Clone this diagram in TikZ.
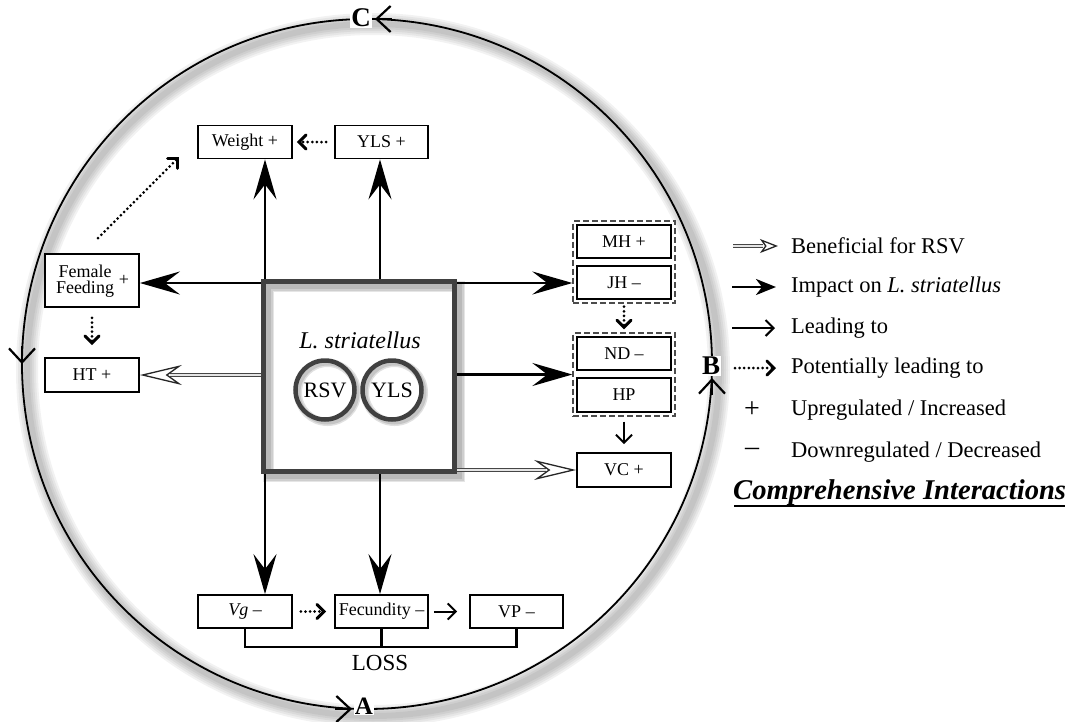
\documentclass[tikz,border=0pt]{standalone}
\usepackage{fontspec}
\setmainfont{Liberation Serif}
\usetikzlibrary{arrows.meta,calc,fit}
\newcommand{\fsz}[1]{\fontsize{#1}{#1}\selectfont}
\definecolor{cbox}{HTML}{404040}
% hollow "beneficial" arrow: from #1 to #2, head length #3, width #4, inset #5
\newcommand{\benarrow}[5]{%
  \draw[line width=3.6pt, gray!55!black] (#1) -- ($(#2)!#3-#5+2pt!(#1)$);
  \draw[line width=1.3pt, gray!20] (#1) -- ($(#2)!#3-#5+2pt!(#1)$);
  \draw[line width=1.3pt, black!85, -{Stealth[open, fill=white, length=#3, width=#4, inset=#5]}] ($(#2)!#3-#5+0.5pt!(#1)$) -- (#2);
}
\begin{document}
\begin{tikzpicture}[x=1pt,y=-1pt,
  box/.style={draw, fill=white, line width=1.8pt, minimum width=94pt, minimum height=33pt, inner sep=0pt, font=\fsz{18}},
  grp/.style={draw=gray!60!black, line width=1.5pt, dash pattern=on 6pt off 3pt, inner sep=3pt},
  impact/.style={line width=2.8pt, -{Stealth[length=40pt,width=23pt,inset=15pt]}},
  impactsm/.style={line width=2.8pt, -{Stealth[length=20pt,width=16pt,inset=6pt]}},
  lead/.style={line width=2pt, -{Straight Barb[length=8pt,width=16pt]}},
  pot/.style={line width=3pt, line cap=round, dash pattern=on 0pt off 4.6pt, -{Straight Barb[length=7pt,width=14pt,line cap=round]}},
  circarr/.style={line width=2.2pt, -{Straight Barb[length=14pt,width=26pt]}},
  lgtext/.style={anchor=west, inner sep=0pt, font=\fsz{22.5}},
  letter/.style={fill=white, inner sep=1pt, font=\fsz{27}\bfseries}
]
\useasboundingbox (0,0) rectangle (1080,721);

% ---- big circle with soft shadow ----
\coordinate (cc) at (367,364);
\foreach \w in {22,18,14,10,6}{
  \draw[black, opacity=0.05, line width=\w pt] (373,370) circle[radius=346pt];
}
\draw[line width=1.8pt] (cc) circle[radius=345pt];

% ---- centre box ----
\foreach \w in {11,8,5}{
  \draw[black, opacity=0.10, line width=\w pt] (268.5,286.5) rectangle (459.5,476.5);
}
\node[draw=cbox, line width=5pt, minimum width=191pt, minimum height=190pt, inner sep=0pt] (box) at (359,376.5) {};
\node[font=\fsz{24}\itshape, inner sep=0pt] (ls) at (360,340) {L. striatellus};
\foreach \w in {8,5}{
  \draw[black, opacity=0.12, line width=\w pt] (327.5,392.5) circle[radius=29.5pt];
  \draw[black, opacity=0.12, line width=\w pt] (394.5,392.5) circle[radius=29.5pt];
}
\node[circle, draw=cbox, line width=4.5pt, minimum size=59pt, inner sep=0pt, font=\fsz{22}] (rsv) at (325,390) {RSV};
\node[circle, draw=cbox, line width=4.5pt, minimum size=59pt, inner sep=0pt, font=\fsz{22}] (ylsc) at (392,390) {YLS};

% ---- boxes ----
\node[box] (weight) at (245,142) {Weight +};
\node[box, minimum width=93pt] (yls) at (381.5,142) {YLS +};
\node[box, minimum height=53pt] (ff) at (92,280.5) {};
\node[font=\fontsize{18}{16}\selectfont, align=center, inner sep=0pt] (fft) at (85,281) {Female\\Feeding};
\node[font=\fsz{18}, inner sep=0pt] (ffp) at (124,280) {+};
\node[box, minimum height=34pt] (ht) at (92,375) {HT +};
\node[box] (mh) at (624,241.5) {MH +};
\node[box] (jh) at (624,282.5) {JH –};
\node[box] (nd) at (624,353.5) {ND –};
\node[box, minimum height=34pt] (hp) at (624,395) {HP};
\node[box, minimum height=34pt] (vc) at (624,470) {VC +};
\node[grp, fit=(mh)(jh)] (g1) {};
\node[grp, fit=(nd)(hp)] (g2) {};
\node[box] (vg) at (245,611.5) {\textit{Vg} –};
\node[box, minimum width=93pt] (fec) at (381.5,611.5) {Fecundity –};
\node[box, minimum width=93pt] (vp) at (516.5,611.5) {VP –};

% ---- impact arrows ----
\coordinate (xl) at (265,0);
\coordinate (xr) at (380,0);
\coordinate (yt) at (0,283);
\draw[impact] (box.north -| xl) -- (weight.south -| xl);
\draw[impact] (box.north -| xr) -- (yls.south -| xr);
\draw[impact] (box.south -| xl) -- (vg.north -| xl);
\draw[impact] (box.south -| xr) -- (fec.north -| xr);
\draw[impact] (box.west |- yt) -- (ff.east |- yt);
\draw[impact] (box.east |- yt) -- (g1.west |- yt);
\draw[impact] (box.east |- g2.west) -- (g2.west);

% ---- beneficial arrows ----
\coordinate (hb) at (box.west |- ht.east);
\coordinate (vb) at (box.east |- vc.west);
\benarrow{hb}{ht.east}{42pt}{20pt}{14pt}
\benarrow{vb}{vc.west}{42pt}{20pt}{14pt}

% ---- potential / leading arrows ----
\draw[pot, shorten <=8pt, shorten >=4pt] (yls.west) -- (weight.east);
\draw[pot, shorten <=10pt, shorten >=12pt] (ff.south) -- (ht.north);
\draw[pot, shorten <=3pt, shorten >=3pt] (g1.south) -- (g2.north);
\draw[pot, shorten <=8pt, shorten >=8pt] (vg.east) -- (fec.west);
\coordinate (d1) at (98,238);
\coordinate (d2) at (179,157);
\draw[pot] (d1) -- (d2);
\draw[lead, shorten <=5pt, shorten >=8pt] (g2.south) -- (vc.north);
\draw[lead, shorten <=5pt, shorten >=12pt] (fec.east) -- (vp.west);

% ---- LOSS bracket ----
\draw[line width=2.5pt] (vg.south) -- ++(0,18) -| (vp.south);
\draw[line width=2.5pt] (fec.south) -- ++(0,18);
\node[font=\fsz{23}, inner sep=0pt] (loss) at (380,663) {LOSS};

% ---- circle arrows and letters ----
\coordinate (c1) at (392,19);  \coordinate (c2) at (375,19);
\coordinate (l1) at (22,346);  \coordinate (l2) at (22,364);
\coordinate (a1) at (335,709); \coordinate (a2) at (352,709);
\coordinate (b1) at (712,395); \coordinate (b2) at (712,378);
\node[letter] (C) at (361,18) {C};
\node[letter, font=\fsz{25}\bfseries] (A) at (364,706) {A};
\node[letter] (B) at (711,366) {B};
\draw[circarr] (c1) -- (c2);
\draw[circarr] (l1) -- (l2);
\draw[circarr] (a1) -- (a2);
\draw[circarr] (b1) -- (b2);

% ---- legend ----
\coordinate (e1a) at (733,246); \coordinate (e1b) at (778,246);
\coordinate (e2a) at (732,287); \coordinate (e2b) at (776,287);
\coordinate (e3a) at (732,328); \coordinate (e3b) at (775,328);
\coordinate (e4a) at (735,368); \coordinate (e4b) at (776,368);
\benarrow{e1a}{e1b}{18pt}{14pt}{5pt}
\draw[impactsm] (e2a) -- (e2b);
\draw[lead] (e3a) -- (e3b);
\draw[pot] (e4a) -- (e4b);
\node[font=\fsz{28}, inner sep=0pt] (plus) at (752,410) {+};
\node[font=\fsz{28}, inner sep=0pt] (minus) at (752,452) {–};
\node[lgtext] (t1) at (791,246) {Beneficial for RSV};
\node[lgtext] (t2) at (791,287) {Impact on \textit{L. striatellus}};
\node[lgtext] (t3) at (791,328) {Leading to};
\node[lgtext] (t4) at (791,368) {Potentially leading to};
\node[lgtext] (t5) at (791,410) {Upregulated / Increased};
\node[lgtext] (t6) at (791,452) {Downregulated / Decreased};
\node[font=\fsz{28.6}\bfseries\itshape, anchor=west, inner sep=0pt] (ci) at (733,493) {Comprehensive Interactions};
\draw[line width=2pt] ($(ci.base west)+(1,6)$) -- ($(ci.base east)+(-1,6)$);
\end{tikzpicture}
\end{document}
